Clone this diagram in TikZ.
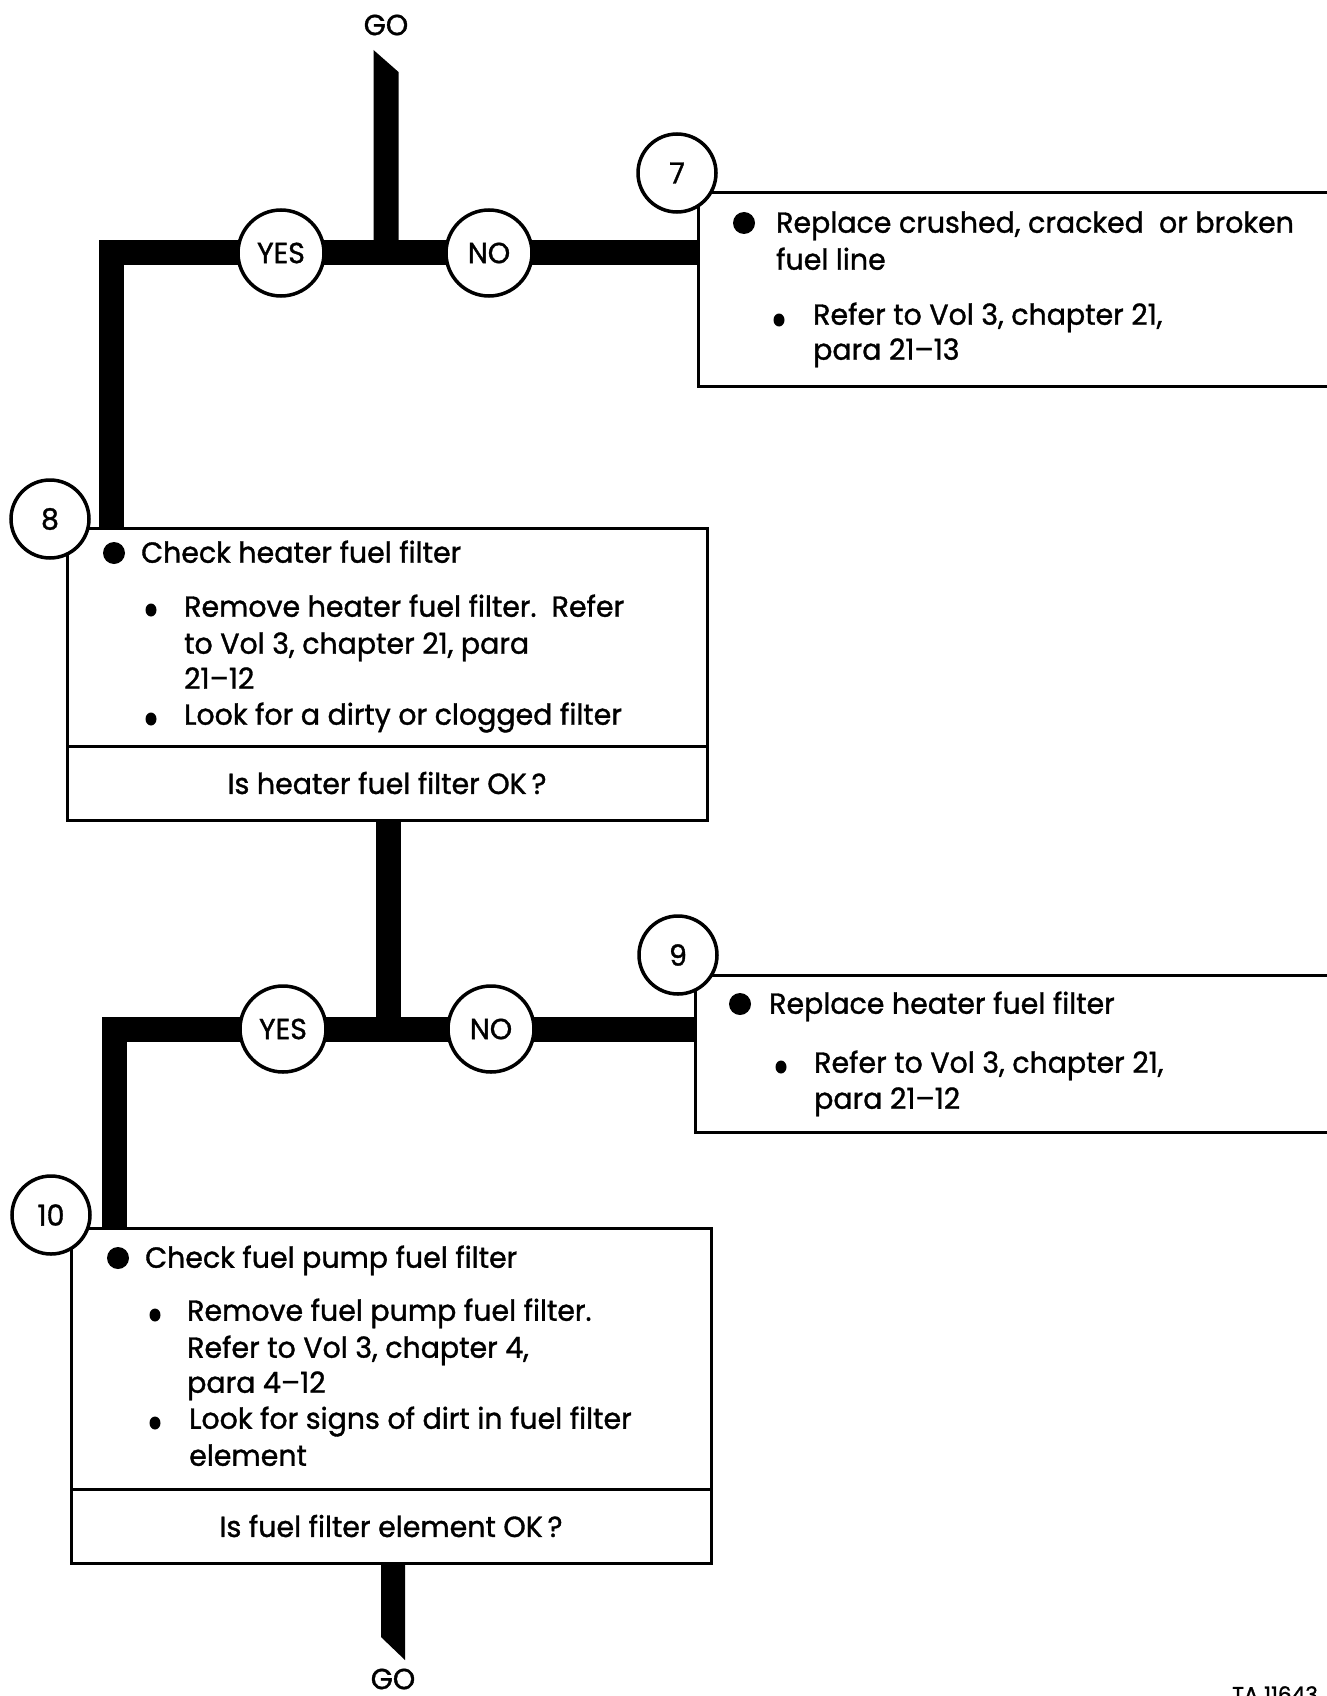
\documentclass[tikz,border=0pt]{standalone}
\usepackage{fontspec}
\setmainfont[FakeStretch=0.98,FakeBold=1.2]{Poppins}
\usetikzlibrary{calc,shapes.geometric}
\newcommand{\bodyfont}{\fontsize{29}{37}\selectfont}
\begin{document}
\begin{tikzpicture}[x=1pt,y=-1pt,
  bar/.style={line width=25pt, line join=miter, line cap=butt},
  numc/.style={circle, draw, line width=3.5pt, fill=white, minimum size=78pt, inner sep=0pt, font=\bodyfont},
  ync/.style={circle, draw, line width=3.5pt, fill=white, minimum size=86pt, inner sep=0pt, font=\bodyfont},
  box/.style={draw, line width=3pt, rectangle, anchor=north west, inner sep=0pt, outer sep=0pt},
  qbox/.style={box, font=\bodyfont},
  txt/.style={anchor=mid west, inner sep=0pt, font=\bodyfont, yshift=-7pt},
  golabel/.style={inner sep=0pt, font=\bodyfont},
  bigdot/.style={circle, fill, minimum size=22pt, inner sep=0pt},
  smalldot/.style={ellipse, fill, minimum width=11pt, minimum height=13pt, inner sep=0pt}]
\useasboundingbox (0,0) rectangle (1326,1696);

% ---- boxes
\node[box, minimum width=702pt, minimum height=193pt] (box7) at (698,193) {};
\node[box, minimum width=640pt, minimum height=218pt] (box8) at (67,528) {};
\node[qbox, minimum width=640pt, minimum height=74pt] (q8) at (67,746) {Is heater fuel filter OK\,?};
\node[box, minimum width=705pt, minimum height=157pt] (box9) at (695,975) {};
\node[box, minimum width=640pt, minimum height=261pt] (box10) at (71,1228) {};
\node[qbox, minimum width=640pt, minimum height=74pt] (q10) at (71,1489) {Is fuel filter element OK\,?};

% ---- GO labels
\node[golabel] (go1) at (386,25) {GO};
\node[golabel] (go2) at (393,1679) {GO};

% ---- junctions
\coordinate (j1) at (386,253);
\coordinate (l1) at (111,253);
\coordinate (j2) at (388,1029);
\coordinate (l2) at (114,1029);

% ---- bars
\fill ($(j1)+(-12.5,-203)$) -- ($(j1)+(12.5,-181)$) -- ($(j1)+(12.5,0)$) -- ($(j1)+(-12.5,0)$) -- cycle;
\draw[bar] (l1 |- box8.north) -- (l1) -- (j1 -| box7.west);
\draw[bar] (q8.south -| j2) -- (j2);
\draw[bar] (l2 |- box10.north) -- (l2) -- (j2 -| box9.west);
\fill ($(q10.south -| go2)+(-12,0)$) -- ($(q10.south -| go2)+(12,0)$) -- ($(q10.south -| go2)+(12,97)$) -- ($(q10.south -| go2)+(-12,74)$) -- cycle;

% ---- circles
\node[ync] (yes1) at (281,253) {YES};
\node[ync] (no1) at (489,253) {NO};
\node[ync] (yes2) at (283,1029) {YES};
\node[ync] (no2) at (491,1029) {NO};
\node[numc] (c7) at (677,173) {7};
\node[numc] (c8) at (50,519) {8};
\node[numc] (c9) at (678,955) {9};
\node[numc] (c10) at (51,1215) {10};

% ---- box 7 text
\node[bigdot] (b7a) at (744,223) {};
\node[txt] (t7a) at (776,223) {Replace crushed, cracked\ \ or broken};
\node[txt] (t7b) at (776,260) {fuel line};
\node[smalldot] (b7b) at (779,320) {};
\node[txt] (t7c) at (813,315) {Refer to Vol 3, chapter 21,};
\node[txt] (t7d) at (813,350) {para 21--13};

% ---- box 8 text
\node[bigdot] (b8a) at (114,553) {};
\node[txt] (t8a) at (141,553) {Check heater fuel filter};
\node[smalldot] (b8b) at (151,610) {};
\node[txt] (t8b) at (184,607) {Remove heater fuel filter.\ \ Refer};
\node[txt] (t8c) at (184,644) {to Vol 3, chapter 21, para};
\node[txt] (t8d) at (184,679) {21--12};
\node[smalldot] (b8c) at (151,719) {};
\node[txt] (t8e) at (184,715) {Look for a dirty or clogged filter};

% ---- box 9 text
\node[bigdot] (b9a) at (740,1004) {};
\node[txt] (t9a) at (769,1004) {Replace heater fuel filter};
\node[smalldot] (b9b) at (781,1067) {};
\node[txt] (t9b) at (814,1063) {Refer to Vol 3, chapter 21,};
\node[txt] (t9c) at (814,1099) {para 21--12};

% ---- box 10 text
\node[bigdot] (b10a) at (118,1258) {};
\node[txt] (t10a) at (145,1258) {Check fuel pump fuel filter};
\node[smalldot] (b10b) at (155,1315) {};
\node[txt] (t10b) at (187,1311) {Remove fuel pump fuel filter.};
\node[txt] (t10c) at (187,1348) {Refer to Vol 3, chapter 4,};
\node[txt] (t10d) at (187,1383) {para 4--12};
\node[smalldot] (b10c) at (155,1423) {};
\node[txt] (t10e) at (189,1419) {Look for signs of dirt in fuel filter};
\node[txt] (t10f) at (189,1456) {element};

% ---- reference number
\node[anchor=north west, inner sep=0pt, font=\fontsize{22}{24}\selectfont] (ta) at (1232,1686) {TA 11643};
\end{tikzpicture}
\end{document}
